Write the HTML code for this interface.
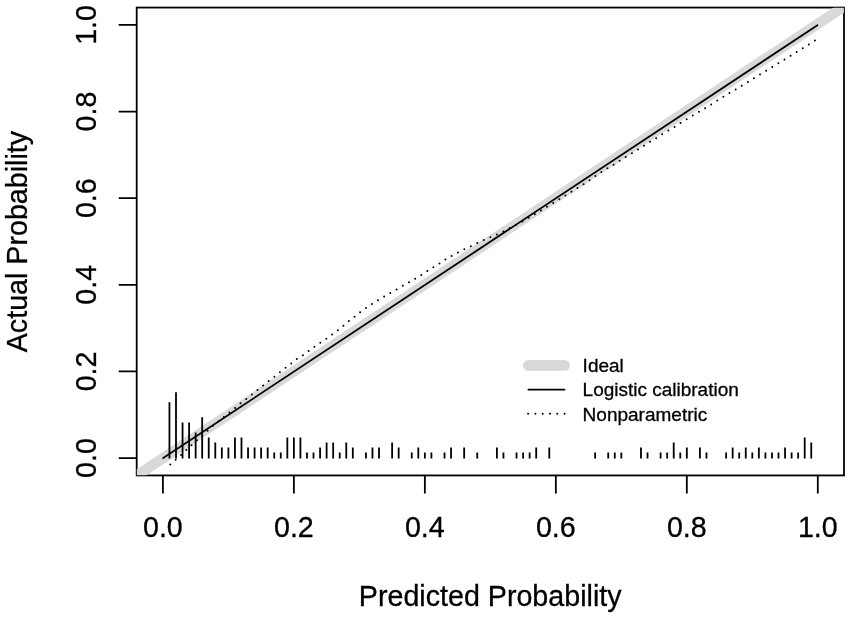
<!DOCTYPE html>
<html lang="en"><head><meta charset="utf-8"><title>Calibration plot</title>
<style>html,body{margin:0;padding:0;background:#fff}svg{display:block}text{font-family:"Liberation Sans",Arial,Helvetica,sans-serif;fill:#000;stroke:#000;stroke-width:0.3px}</style></head><body>
<svg width="851" height="618" viewBox="0 0 851 618">
<rect width="851" height="618" fill="#fff"/>
<defs><clipPath id="pc"><rect x="136.80" y="7.67" width="707.09" height="467.66"/></clipPath></defs>
<rect x="136.70" y="7.57" width="707.29" height="467.86" fill="none" stroke="#000" stroke-width="1.8"/>
<path d="M162.90 475.43V493.53M136.70 458.10H118.70M293.88 475.43V493.53M136.70 371.46H118.70M424.86 475.43V493.53M136.70 284.82H118.70M555.84 475.43V493.53M136.70 198.18H118.70M686.82 475.43V493.53M136.70 111.54H118.70M817.80 475.43V493.53M136.70 24.90H118.70" stroke="#000" stroke-width="1.8" fill="none"/>
<line x1="97.41" y1="501.66" x2="883.29" y2="-19.51" stroke="#d9d9d9" stroke-width="10.4" clip-path="url(#pc)"/>
<path d="M170.3 464.4L175.7 459.6L181.1 454.9L186.4 450.0L191.7 445.0L196.9 440.3L202.4 435.4L208.0 430.5L213.4 425.4L218.8 421.1L224.1 416.7L229.5 412.4L235.1 408.0L240.8 403.1L246.4 398.8L252.0 394.4L257.7 389.9L263.3 385.4L268.7 381.0L274.6 376.5L280.0 372.2L285.6 367.8L291.3 363.3L296.9 358.8L302.9 355.4L308.5 351.0L314.6 346.5L320.4 342.6L326.2 338.9L332.0 334.7L337.9 330.2L343.5 325.7L348.9 321.1L354.6 316.6L360.2 312.1L366.0 307.9L372.0 304.0L378.1 300.3L384.1 296.6L390.3 292.9L396.5 289.4L402.7 285.9L408.9 282.4L415.1 278.7L421.4 275.0L427.4 271.0L433.4 267.3L439.4 263.6L445.4 259.6L451.7 255.9L457.9 252.6L464.3 249.3L470.7 246.4L477.3 243.1L483.9 240.0L490.5 237.3L496.9 234.4L503.3 231.5L509.7 228.1L516.1 224.8L522.5 221.4L528.7 217.7L535.0 214.2L541.0 210.5L547.0 206.8L553.2 203.1L559.2 199.4L565.2 195.7L571.3 191.8L577.3 188.0L582.9 184.6L588.7 180.7L595.0 176.4L601.0 172.3L607.2 168.4L613.4 164.8L619.4 160.9L625.6 157.0L631.7 153.5L637.7 149.6L643.9 145.7L649.9 141.8L656.1 138.2L662.1 134.3L668.3 130.6L674.6 126.9L680.6 123.0L686.6 119.3L692.8 115.6L698.8 111.9L704.9 108.3L711.1 104.5L717.1 100.7L723.3 96.9L729.3 93.2L735.5 89.6L741.7 85.8L747.7 82.1L753.9 78.3L759.9 74.5L766.1 70.7L772.1 67.1L778.2 63.4L784.3 59.6L790.5 55.8L796.7 52.0L802.7 48.2L808.9 44.4L814.9 40.6" stroke="#000" stroke-width="2.0" stroke-linecap="round" stroke-dasharray="0 1" pathLength="108" fill="none" stroke-linejoin="round"/>
<line x1="163.2" y1="458.1" x2="817.4" y2="25.3" stroke="#000" stroke-width="1.8" stroke-linecap="round"/>
<path d="M169.45 458.55V402.27M176.00 458.55V392.21M182.55 458.55V422.39M189.10 458.55V422.39M195.65 458.55V432.45M202.19 458.55V417.36M208.74 458.55V437.48M215.29 458.55V442.51M221.84 458.55V447.54M228.39 458.55V447.54M234.94 458.55V437.48M241.49 458.55V437.48M248.04 458.55V447.54M254.59 458.55V447.54M261.13 458.55V447.54M267.68 458.55V447.54M274.23 458.55V452.57M280.78 458.55V452.57M287.33 458.55V437.48M293.88 458.55V437.48M300.43 458.55V437.48M306.98 458.55V452.57M313.53 458.55V452.57M320.08 458.55V447.54M326.62 458.55V442.51M333.17 458.55V442.51M339.72 458.55V452.57M346.27 458.55V442.51M352.82 458.55V447.54M365.92 458.55V452.57M372.47 458.55V447.54M379.02 458.55V447.54M392.12 458.55V442.51M398.66 458.55V447.54M411.76 458.55V452.57M418.31 458.55V447.54M424.86 458.55V452.57M431.41 458.55V452.57M444.51 458.55V452.57M451.06 458.55V447.54M464.15 458.55V447.54M477.25 458.55V452.57M496.90 458.55V447.54M503.45 458.55V452.57M516.55 458.55V452.57M523.10 458.55V452.57M529.64 458.55V452.57M536.19 458.55V447.54M549.29 458.55V447.54M595.13 458.55V452.57M608.23 458.55V452.57M614.78 458.55V452.57M621.33 458.55V452.57M640.98 458.55V447.54M647.53 458.55V452.57M660.62 458.55V452.57M667.17 458.55V452.57M673.72 458.55V442.51M680.27 458.55V452.57M686.82 458.55V447.54M699.92 458.55V447.54M706.47 458.55V452.57M726.11 458.55V452.57M732.66 458.55V447.54M739.21 458.55V452.57M745.76 458.55V447.54M752.31 458.55V452.57M758.86 458.55V447.54M765.41 458.55V452.57M771.96 458.55V452.57M778.51 458.55V452.57M785.05 458.55V447.54M791.60 458.55V452.57M798.15 458.55V452.57M804.70 458.55V437.48M811.25 458.55V442.51" stroke="#000" stroke-width="1.8" fill="none"/>
<text x="162.90" y="537.3" font-size="28.65" text-anchor="middle">0.0</text>
<text transform="translate(95.5 458.10) rotate(-90)" font-size="28.65" text-anchor="middle">0.0</text>
<text x="293.88" y="537.3" font-size="28.65" text-anchor="middle">0.2</text>
<text transform="translate(95.5 371.46) rotate(-90)" font-size="28.65" text-anchor="middle">0.2</text>
<text x="424.86" y="537.3" font-size="28.65" text-anchor="middle">0.4</text>
<text transform="translate(95.5 284.82) rotate(-90)" font-size="28.65" text-anchor="middle">0.4</text>
<text x="555.84" y="537.3" font-size="28.65" text-anchor="middle">0.6</text>
<text transform="translate(95.5 198.18) rotate(-90)" font-size="28.65" text-anchor="middle">0.6</text>
<text x="686.82" y="537.3" font-size="28.65" text-anchor="middle">0.8</text>
<text transform="translate(95.5 111.54) rotate(-90)" font-size="28.65" text-anchor="middle">0.8</text>
<text x="817.80" y="537.3" font-size="28.65" text-anchor="middle">1.0</text>
<text transform="translate(95.5 24.90) rotate(-90)" font-size="28.65" text-anchor="middle">1.0</text>
<text x="490.2" y="606.0" font-size="28.65" text-anchor="middle">Predicted Probability</text>
<text transform="translate(26.6 241.6) rotate(-90)" font-size="28.65" text-anchor="middle">Actual Probability</text>
<line x1="528.45" y1="365.35" x2="564.55" y2="365.35" stroke="#d9d9d9" stroke-width="10.9" stroke-linecap="round"/>
<line x1="528.4" y1="389.6" x2="564.5" y2="389.6" stroke="#000" stroke-width="1.8" stroke-linecap="round"/>
<line x1="528.1" y1="413.8" x2="566" y2="413.8" stroke="#000" stroke-width="2.0" stroke-linecap="round" stroke-dasharray="0 7.3"/>
<text x="582.63" y="372.0" font-size="18.5" textLength="41.16" lengthAdjust="spacingAndGlyphs">Ideal</text>
<text x="582.63" y="396.2" font-size="18.5" textLength="156.15" lengthAdjust="spacingAndGlyphs">Logistic calibration</text>
<text x="582.63" y="420.6" font-size="18.5" textLength="124.60" lengthAdjust="spacingAndGlyphs">Nonparametric</text>
</svg></body></html>
